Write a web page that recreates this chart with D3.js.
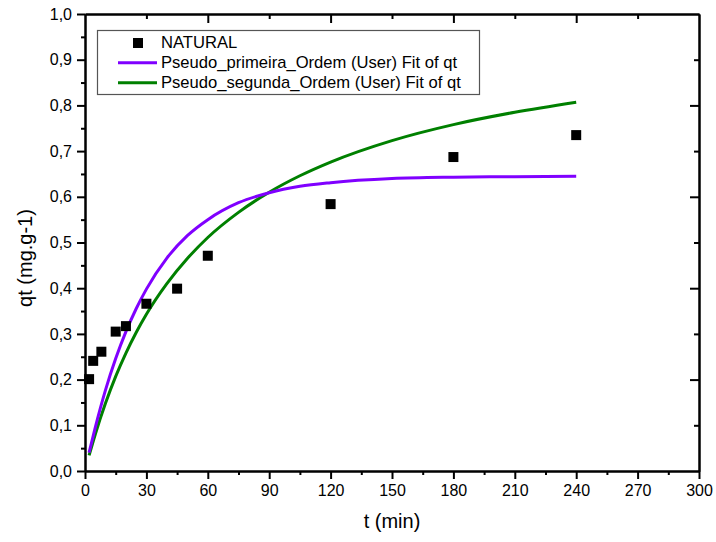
<!DOCTYPE html>
<html>
<head>
<meta charset="utf-8">
<script src="https://cdn.jsdelivr.net/npm/d3@7"></script>
<style>
  html, body { margin: 0; padding: 0; background: #fff; }
  svg { display: block; font-family: Arial, "Liberation Sans", sans-serif; }
</style>
</head>
<body>
<svg id="chart" width="716" height="542"></svg>
<script>
// ---- data ----
const timeMin = [2, 4, 8, 15, 20, 30, 45, 60, 120, 180, 240];
const qtNatural = [0.201, 0.241, 0.261, 0.305, 0.317, 0.366, 0.399, 0.471, 0.584, 0.687, 0.735];

const fitTime = [2, 5, 10, 15, 20, 25, 30, 40, 50, 60, 75, 90, 105, 120, 150, 180, 210, 240];
const fitPrimeira = [0.040, 0.095, 0.177, 0.246, 0.305, 0.355, 0.398, 0.466, 0.515, 0.550, 0.587, 0.609, 0.623, 0.631, 0.640, 0.643, 0.644, 0.645];
const fitSegunda = [0.034, 0.080, 0.148, 0.207, 0.258, 0.303, 0.343, 0.410, 0.465, 0.511, 0.566, 0.610, 0.646, 0.676, 0.723, 0.758, 0.785, 0.807];

const xTicks = [0, 30, 60, 90, 120, 150, 180, 210, 240, 270, 300];
const yTicks = [0, 0.1, 0.2, 0.3, 0.4, 0.5, 0.6, 0.7, 0.8, 0.9, 1.0];

const legendLabels = ["NATURAL", "Pseudo_primeira_Ordem (User) Fit of qt", "Pseudo_segunda_Ordem (User) Fit of qt"];
const colPrimeira = "#8000ff";
const colSegunda = "#008000";

// ---- layout ----
const svg = d3.select("#chart");
const x = d3.scaleLinear().domain([0, 300]).range([85, 699]);
const y = d3.scaleLinear().domain([0, 1]).range([471, 14]);
const fmt = d => d3.format(".1f")(d).replace(".", ",");

// curves
const line = d3.line().x(d => x(d[0])).y(d => y(d[1])).curve(d3.curveMonotoneX);
svg.append("path")
  .attr("d", line(fitTime.map((t, i) => [t, fitSegunda[i]])))
  .attr("fill", "none").attr("stroke", colSegunda).attr("stroke-width", 3);
svg.append("path")
  .attr("d", line(fitTime.map((t, i) => [t, fitPrimeira[i]])))
  .attr("fill", "none").attr("stroke", colPrimeira).attr("stroke-width", 3);

// points
svg.append("g").selectAll("rect").data(timeMin.map((t, i) => [t, qtNatural[i]])).join("rect")
  .attr("x", d => x(d[0]) - 5).attr("y", d => y(d[1]) - 5)
  .attr("width", 10).attr("height", 10).attr("fill", "#000");

// axes
function styleAxis(g) {
  g.select(".domain").attr("stroke", "#000").attr("stroke-width", 2);
  g.selectAll(".tick line").attr("stroke", "#000").attr("stroke-width", 2);
  g.selectAll(".tick text").attr("fill", "#000").style("font-size", "16px");
}
// bottom
svg.append("g").attr("transform", `translate(0,${y(0)})`)
  .call(d3.axisBottom(x).tickValues(d3.range(15, 300, 30)).tickSize(4).tickFormat("").tickSizeOuter(0))
  .call(styleAxis);
svg.append("g").attr("transform", `translate(0,${y(0)})`)
  .call(d3.axisBottom(x).tickValues(xTicks).tickSize(8).tickPadding(6).tickSizeOuter(0).tickFormat(d3.format("d")))
  .call(styleAxis);
// left
svg.append("g").attr("transform", `translate(${x(0)},0)`)
  .call(d3.axisLeft(y).tickValues(d3.range(0.05, 1, 0.1)).tickSize(4).tickFormat("").tickSizeOuter(0))
  .call(styleAxis);
svg.append("g").attr("transform", `translate(${x(0)},0)`)
  .call(d3.axisLeft(y).tickValues(yTicks).tickSize(8).tickPadding(5).tickSizeOuter(0).tickFormat(fmt))
  .call(styleAxis);
// top (inward)
svg.append("g").attr("transform", `translate(0,${y(1)})`)
  .call(d3.axisBottom(x).tickValues([30, 90, 150, 210, 270]).tickSize(5).tickFormat("").tickSizeOuter(0))
  .call(styleAxis);
svg.append("g").attr("transform", `translate(0,${y(1)})`)
  .call(d3.axisBottom(x).tickValues([60, 120, 180, 240]).tickSize(9).tickFormat("").tickSizeOuter(0))
  .call(styleAxis);
// right (inward)
svg.append("g").attr("transform", `translate(${x(300)},0)`)
  .call(d3.axisLeft(y).tickValues([0.1, 0.3, 0.5, 0.7, 0.9]).tickSize(5).tickFormat("").tickSizeOuter(0))
  .call(styleAxis);
svg.append("g").attr("transform", `translate(${x(300)},0)`)
  .call(d3.axisLeft(y).tickValues([0.2, 0.4, 0.6, 0.8]).tickSize(9).tickFormat("").tickSizeOuter(0))
  .call(styleAxis);

// axis titles
svg.append("text").attr("x", 392).attr("y", 528).attr("text-anchor", "middle")
  .style("font-size", "20px").attr("fill", "#000").text("t (min)");
svg.append("text").attr("transform", "translate(32,258) rotate(-90)").attr("text-anchor", "middle")
  .style("font-size", "20px").attr("fill", "#000").text("qt (mg.g-1)");

// legend
const lg = svg.append("g");
lg.append("rect").attr("x", 97.5).attr("y", 30.5).attr("width", 382).attr("height", 64)
  .attr("fill", "#fff").attr("stroke", "#555").attr("stroke-width", 1.2);
lg.append("rect").attr("x", 133).attr("y", 38).attr("width", 10).attr("height", 10).attr("fill", "#000");
lg.append("line").attr("x1", 118).attr("x2", 157).attr("y1", 62.7).attr("y2", 62.7)
  .attr("stroke", colPrimeira).attr("stroke-width", 3);
lg.append("line").attr("x1", 118).attr("x2", 157).attr("y1", 82.7).attr("y2", 82.7)
  .attr("stroke", colSegunda).attr("stroke-width", 3);
[48.3, 68.3, 88.3].forEach((by, i) => {
  lg.append("text").attr("x", i === 0 ? 161 : 161).attr("y", by)
    .style("font-size", "16.6px").attr("fill", "#000").text(legendLabels[i]);
});
</script>
</body>
</html>
